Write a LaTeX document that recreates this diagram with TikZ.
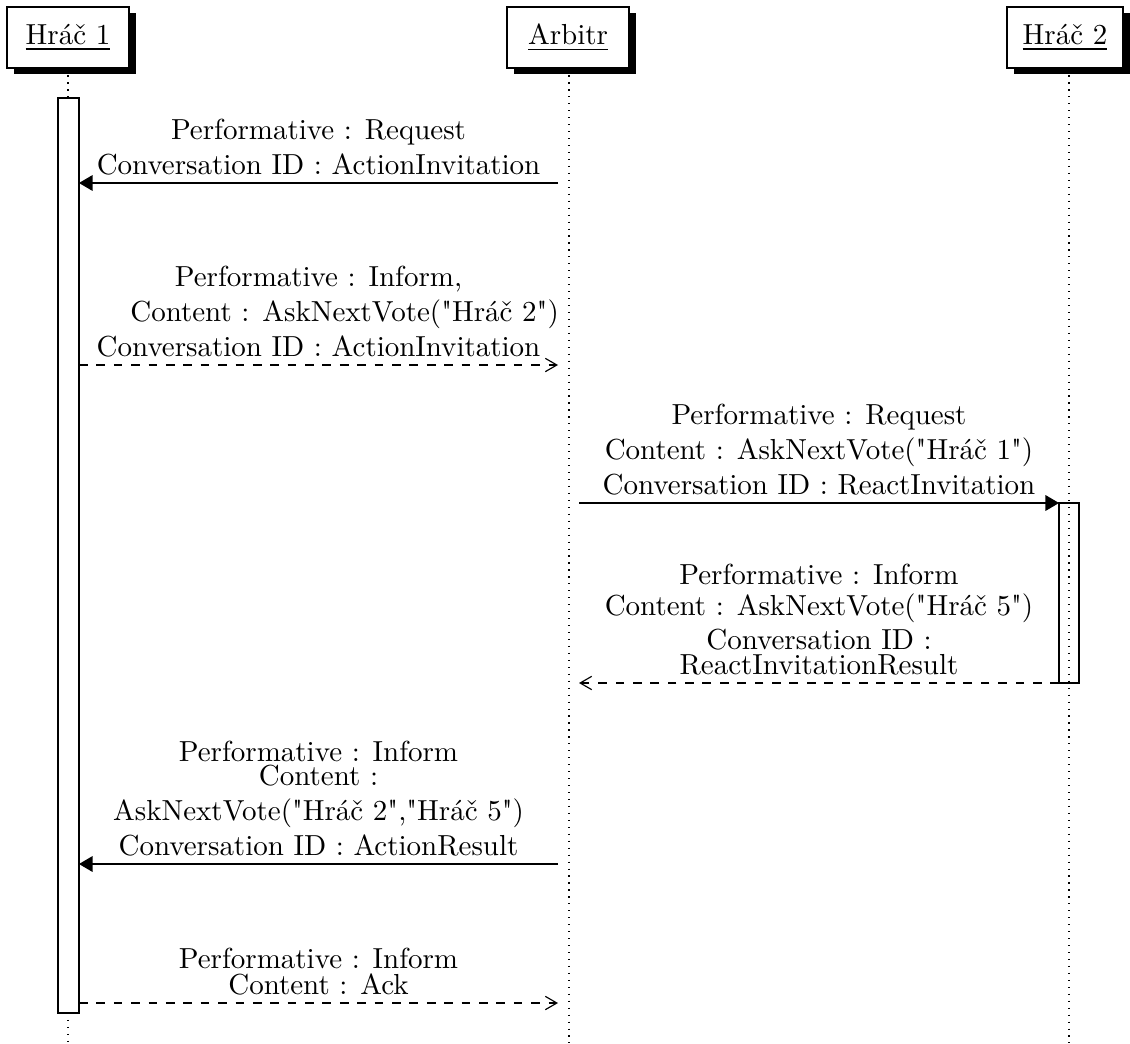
\documentclass[tikz,border=0pt]{standalone}
\usepackage{fontspec}
\setmainfont{Latin Modern Roman}[Ligatures=TeXOff]
\usepackage{tikz}
\usetikzlibrary{shadows,arrows.meta}

\tikzset{
	agent/.style={draw, fill=white, minimum width=42.1pt, minimum height=21pt, inner sep=0pt,
		drop shadow={shadow xshift=2.4pt, shadow yshift=-2.1pt, fill=black, opacity=1}},
	lifeline/.style={dotted},
	call/.style={-{Triangle[angle=60:5.4pt]}},
	reply/.style={dashed, -{Straight Barb[angle=60:4.6pt]}},
	label/.style={align=center, above, inner sep=2.5pt}
}

\begin{document}
\begin{tikzpicture}[x=0.345pt, y=-0.345pt]
				\useasboundingbox (0,0) rectangle (1130,1043);
				
				% Participants
				\node[agent] (hrac1) at (68,37.5) {\underline{Hráč 1}};
				\node[agent] (arbitr) at (568,37.5) {\underline{Arbitr}};
				\node[agent, minimum width=40pt] (hrac2) at (1065,37.5) {\underline{Hráč 2}};
				
				% Lifelines
				\coordinate (h1top) at (68,98);
				\coordinate (h1bot) at (68,1013);
				\draw[lifeline] (hrac1.south) -- (h1top);
				\draw[lifeline] (h1bot) -- (68,1043);
				\draw[lifeline] (arbitr.south -| 569,0) -- (569,1043);
				\draw[lifeline] (hrac2.south -| 1069,0) -- (1069,1043);
				
				% Activity bars
				\draw[fill=white] (58,98) rectangle (79,1013);
				\draw (1059,503) rectangle (1079,683);
				
				% Message end points
				\coordinate (a1) at (558,183);   \coordinate (h1a) at (79,183);
				\coordinate (h1b) at (79,365);   \coordinate (a2) at (558,365);
				\coordinate (a3) at (579,503);   \coordinate (h2a) at (1059,503);
				\coordinate (h2b) at (1059,683); \coordinate (a4) at (579,683);
				\coordinate (a5) at (558,864);   \coordinate (h1c) at (79,864);
				\coordinate (h1d) at (79,1003);  \coordinate (a6) at (558,1003);
				
				% Messages
				\draw[call] (a1) -- (h1a) node[label, midway] (m1) {Performative : Request\\Conversation ID : ActionInvitation};
				\draw[reply] (h1b) -- (a2) node[label, midway] (m2) {Performative : Inform,\\\hspace*{18pt}Content : AskNextVote("Hráč 2")\\Conversation ID : ActionInvitation};
				\draw[call] (a3) -- (h2a) node[label, midway] (m3) {Performative : Request\\Content : AskNextVote("Hráč 1")\\Conversation ID : ReactInvitation};
				\draw[reply] (h2b) -- (a4) node[label, midway] (m4) {Performative : Inform\\[-1.5pt]Content : AskNextVote("Hráč 5")\\[-0.3pt]Conversation ID :\\[-3.2pt]ReactInvitationResult};
				\draw[call] (a5) -- (h1c) node[label, midway] (m5) {Performative : Inform\\[-3.5pt]Content :\\AskNextVote("Hráč 2","Hráč 5")\\Conversation ID : ActionResult};
				\draw[reply] (h1d) -- (a6) node[label, midway] (m6) {Performative : Inform\\[-3pt]Content : Ack};
			\end{tikzpicture}
\end{document}
